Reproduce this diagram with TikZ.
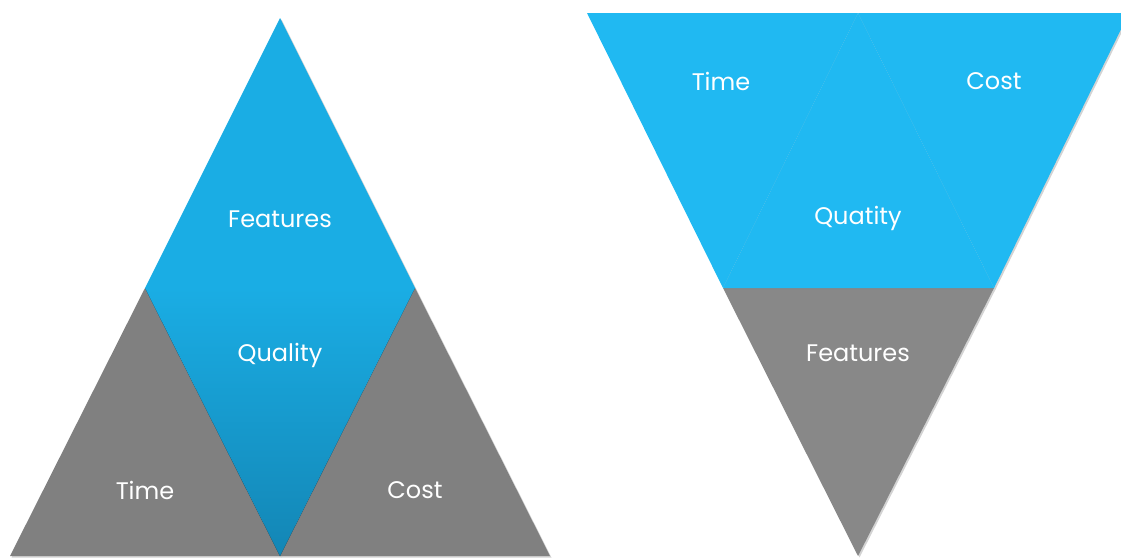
\documentclass[tikz,border=0pt]{standalone}
\usepackage{fontspec}
\setmainfont{Poppins}
\usetikzlibrary{shadows}
\definecolor{skyL}{HTML}{1AADE4}
\definecolor{skyDeep}{HTML}{1386B5}
\definecolor{skyR}{HTML}{20B9F2}
\definecolor{slateL}{HTML}{808080}
\definecolor{slateR}{HTML}{888888}

\begin{document}
\begin{tikzpicture}[x=1pt,y=-1pt,
    lbl/.style     = {text=white, font=\fontsize{24}{28}\selectfont},
    soft/.style    = {drop shadow={shadow xshift=1.5pt, shadow yshift=-1.5pt, opacity=.35}},
    blueL/.style   = {fill=skyL, soft},
    grayL/.style   = {fill=slateL, soft},
    blueR/.style   = {fill=skyR, soft},
    grayR/.style   = {fill=slateR, soft},
    quality/.style = {top color=skyL, middle color=skyL, bottom color=skyDeep, soft}
  ]
  \useasboundingbox (0,0) rectangle (1121,558);
  \clip (0,0) rectangle (1121,558);

  % left pyramid
  \coordinate (LA) at (280,18);
  \coordinate (LL) at (10,556);
  \coordinate (LR) at (550,556);
  \coordinate (LML) at (145,288);
  \coordinate (LMR) at (415,288);
  \coordinate (LB) at (280,556);

  \fill [grayL] (LML) -- (LB) -- (LL) -- cycle;
  \fill [grayL] (LMR) -- (LR) -- (LB) -- cycle;
  \fill [blueL] (LA) -- (LMR) -- (LML) -- cycle;
  \fill [quality] (LML) -- (LMR) -- (LB) -- cycle;

  \node [lbl] (featL) at (280,219) {Features};
  \node [lbl] (qualL) at (280,355) {Quality};
  \node [lbl] (timeL) at (145,490) {Time};
  \node [lbl] (costL) at (415,490) {Cost};

  % right funnel
  \coordinate (RTL) at (587,13);
  \coordinate (RTM) at (858,13);
  \coordinate (RTR) at (1129,13);
  \coordinate (RML) at (723,288);
  \coordinate (RMR) at (994,288);
  \coordinate (RB) at (858,556);

  \fill [grayR] (RML) -- (RMR) -- (RB) -- cycle;
  \fill [blueR] (RTL) -- (RTM) -- (RML) -- cycle;
  \fill [blueR] (RTM) -- (RMR) -- (RML) -- cycle;
  \fill [blueR] (RTM) -- (RTR) -- (RMR) -- cycle;

  \node [lbl] (timeR) at (721,81) {Time};
  \node [lbl] (costR) at (994,81) {Cost};
  \node [lbl] (qualR) at (858,218) {Quatity};
  \node [lbl] (featR) at (858,353) {Features};
\end{tikzpicture}
\end{document}
